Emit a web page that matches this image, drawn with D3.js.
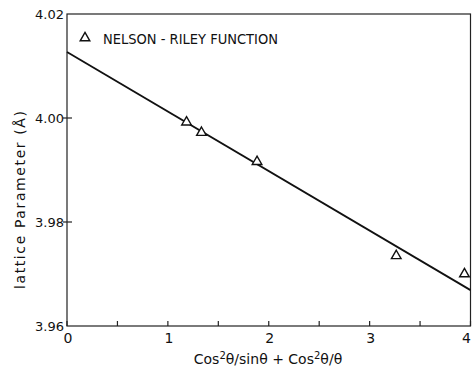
<!DOCTYPE html>
<html>
<head>
<meta charset="utf-8">
<script src="https://cdn.jsdelivr.net/npm/d3@7"></script>
<style>
  body { margin: 0; background: #fff; }
  svg { display: block; }
  text { font-family: 'DejaVu Sans', sans-serif; fill: #111; }
</style>
</head>
<body>
<div id="chart"></div>
<script>
// Nelson-Riley extrapolation data
const xValues = [1.185, 1.333, 1.884, 3.264, 3.94];
const yValues = [3.9992, 3.9972, 3.9916, 3.9735, 3.9700];
const fitX = [0, 4];
const fitY = [4.0127, 3.9669];
const xTicks = [0, 1, 2, 3, 4];
const xMinorTicks = [0.5, 1.5, 2.5, 3.5];
const yTicks = [3.96, 3.98, 4.00, 4.02];
const legendLabel = 'NELSON - RILEY FUNCTION';

const width = 472, height = 374;
const margin = { top: 14, right: 1, bottom: 48, left: 67 };

const svg = d3.select('#chart').append('svg')
  .attr('width', width)
  .attr('height', height);

const x = d3.scaleLinear().domain([0, 4]).range([margin.left, width - margin.right - 0.5]);
const y = d3.scaleLinear().domain([3.96, 4.02]).range([height - margin.bottom, margin.top]);

// Frame
svg.append('rect')
  .attr('x', x(0)).attr('y', y(4.02))
  .attr('width', x(4) - x(0)).attr('height', y(3.96) - y(4.02))
  .attr('fill', 'none').attr('stroke', '#222').attr('stroke-width', 1.2);

// x axis ticks (pointing inward)
const g = svg.append('g').attr('stroke', '#222').attr('stroke-width', 1.2);
g.selectAll('.xt')
  .data(xTicks.concat(xMinorTicks))
  .join('line')
  .attr('x1', d => x(d)).attr('x2', d => x(d))
  .attr('y1', y(3.96)).attr('y2', y(3.96) - 5);

// y axis ticks
g.selectAll('.yt')
  .data(yTicks.slice(1, 3))
  .join('line')
  .attr('x1', x(0) - 4).attr('x2', x(0) + 5)
  .attr('y1', d => y(d)).attr('y2', d => y(d));

// tick labels (last one kept inside the page edge)
svg.selectAll('.xl')
  .data(xTicks)
  .join('text')
  .attr('x', (d, i) => i === xTicks.length - 1 ? width - 1 : x(d) + 1)
  .attr('y', y(3.96) + 17)
  .attr('text-anchor', (d, i) => i === xTicks.length - 1 ? 'end' : 'middle')
  .attr('font-size', 14)
  .text(d => d);

svg.selectAll('.yl')
  .data(yTicks)
  .join('text')
  .attr('x', x(0) - 3)
  .attr('y', d => y(d) + 5)
  .attr('text-anchor', 'end')
  .attr('font-size', 13)
  .text(d => d3.format('.2f')(d));

// axis titles
svg.append('text')
  .attr('x', 268).attr('y', 364)
  .attr('text-anchor', 'middle')
  .attr('font-size', 14)
  .html('Cos<tspan dy="-5" font-size="10">2</tspan><tspan dy="5">θ/sinθ + Cos</tspan><tspan dy="-5" font-size="10">2</tspan><tspan dy="5">θ/θ</tspan>');

svg.append('text')
  .attr('transform', 'translate(25,' + 200 + ') rotate(-90)')
  .attr('text-anchor', 'middle')
  .attr('font-size', 14)
  .attr('textLength', 178)
  .attr('lengthAdjust', 'spacing')
  .text('lattice Parameter (Å)');

// fitted line
const line = d3.line().x(d => x(d[0])).y(d => y(d[1]));
svg.append('path')
  .datum(d3.zip(fitX, fitY))
  .attr('d', line)
  .attr('fill', 'none')
  .attr('stroke', '#111')
  .attr('stroke-width', 1.8);

// data points
const tri = d3.symbol().type(d3.symbolTriangle).size(40);
svg.selectAll('.pt')
  .data(d3.zip(xValues, yValues))
  .join('path')
  .attr('d', tri)
  .attr('transform', d => `translate(${x(d[0])},${y(d[1])})`)
  .attr('fill', '#fff')
  .attr('stroke', '#111')
  .attr('stroke-width', 1.4);

// legend
svg.append('path')
  .attr('d', tri)
  .attr('transform', 'translate(85,38)')
  .attr('fill', '#fff')
  .attr('stroke', '#111')
  .attr('stroke-width', 1.4);

svg.append('text')
  .attr('x', 103).attr('y', 44)
  .attr('font-size', 14)
  .attr('textLength', 175)
  .attr('lengthAdjust', 'spacingAndGlyphs')
  .text(legendLabel);
</script>
</body>
</html>
